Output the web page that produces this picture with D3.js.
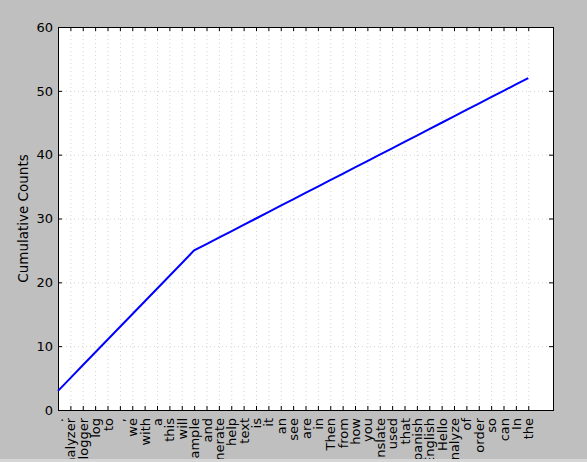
<!DOCTYPE html>
<html>
<head>
<meta charset="utf-8">
<script src="https://cdn.jsdelivr.net/npm/d3@7"></script>
<style>
  body { margin: 0; background: #bfbfbf; }
  svg { display: block; font-family: "DejaVu Sans", sans-serif; }
</style>
</head>
<body>
<svg id="chart"></svg>
<script>
// Words in frequency order, and how often each one occurs
var words = [".", "analyzer", "blogger", "log", "to", ",", "we", "with", "a", "this",
  "will", "example", "and", "generate", "help", "text", "is", "it", "an", "see",
  "are", "in", "Then", "from", "how", "you", "translate", "used", "that", "Spanish",
  "English", "Hello", "analyze", "of", "order", "so", "can", "In", "the"];
var counts = [3, 2, 2, 2, 2, 2, 2, 2, 2, 2,
  2, 2, 1, 1, 1, 1, 1, 1, 1, 1,
  1, 1, 1, 1, 1, 1, 1, 1, 1, 1,
  1, 1, 1, 1, 1, 1, 1, 1, 1];
var yTicks = [0, 10, 20, 30, 40, 50, 60];

var config = {
  width: 587,
  height: 462,
  left: 58,
  right: 553,
  top: 27,
  bottom: 410,
  tickLength: 4,
  fontSize: 13,
  windowEdge: 459,// the figure stops here, a lighter strip sits below it
}

// Running total for the cumulative line
var cumulative = [];
var total = 0;
counts.forEach(function(c) { total += c; cumulative.push(total); });

var svg = d3.select('#chart')
  .attr('width', config.width)
  .attr('height', config.height);

var x = d3.scaleLinear().domain([0, 40]).range([config.left, config.right]);
var y = d3.scaleLinear().domain([0, 60]).range([config.bottom, config.top]);
var idx = d3.range(words.length);

// White plot area
svg.append('rect')
  .attr('x', config.left).attr('y', config.top)
  .attr('width', config.right - config.left)
  .attr('height', config.bottom - config.top)
  .attr('fill', '#fff');

// Dotted grid
var grid = svg.append('g').attr('stroke', '#d4d4d4').attr('stroke-width', 1).attr('stroke-dasharray', '1,3');
idx.forEach(function(i) {
  grid.append('line').attr('x1', x(i) + 0.5).attr('x2', x(i) + 0.5)
    .attr('y1', config.top).attr('y2', config.bottom);
});
yTicks.forEach(function(t) {
  grid.append('line').attr('x1', config.left).attr('x2', config.right)
    .attr('y1', y(t) + 0.5).attr('y2', y(t) + 0.5);
});

// Axes with inward ticks on all four sides
var bottomAxis = svg.append('g')
  .attr('transform', 'translate(0,' + config.bottom + ')')
  .call(d3.axisBottom(x).tickValues(idx).tickSize(-config.tickLength).tickSizeOuter(0)
    .tickFormat(function(i) { return words[i]; }));
bottomAxis.selectAll('text')
  .attr('transform', 'rotate(-90)')
  .attr('x', -8).attr('y', 0).attr('dy', '0.35em')
  .attr('text-anchor', 'end');

svg.append('g')
  .attr('transform', 'translate(0,' + config.top + ')')
  .call(d3.axisTop(x).tickValues(idx).tickSize(-config.tickLength).tickSizeOuter(0).tickFormat(''));

svg.append('g')
  .attr('transform', 'translate(' + config.left + ',0)')
  .call(d3.axisLeft(y).tickValues(yTicks).tickSize(-config.tickLength).tickSizeOuter(0).tickPadding(5));

svg.append('g')
  .attr('transform', 'translate(' + config.right + ',0)')
  .call(d3.axisRight(y).tickValues(yTicks).tickSize(-config.tickLength).tickSizeOuter(0).tickFormat(''));

svg.selectAll('.tick text')
  .attr('font-size', config.fontSize + 'px')
  .attr('font-family', '"DejaVu Sans", sans-serif')
  .attr('fill', '#000');
svg.selectAll('.domain').remove();

// Frame
svg.append('rect')
  .attr('x', config.left + 0.5).attr('y', config.top + 0.5)
  .attr('width', config.right - config.left)
  .attr('height', config.bottom - config.top)
  .attr('fill', 'none').attr('stroke', '#000').attr('stroke-width', 1);

// Cumulative line
var line = d3.line()
  .x(function(d, i) { return x(i); })
  .y(function(d) { return y(d); });
svg.append('path')
  .attr('d', line(cumulative))
  .attr('fill', 'none')
  .attr('stroke', '#0000ff')
  .attr('stroke-width', 2);

// Y label
svg.append('text')
  .attr('transform', 'translate(28,' + ((config.top + config.bottom) / 2) + ') rotate(-90)')
  .attr('text-anchor', 'middle')
  .attr('font-size', '13.5px')
  .text('Cumulative Counts');

// Lighter strip at the bottom edge of the window that cuts the long labels
svg.append('rect')
  .attr('x', 0).attr('y', config.windowEdge)
  .attr('width', config.width).attr('height', config.height - config.windowEdge)
  .attr('fill', '#d6d6d6');
</script>
</body>
</html>
